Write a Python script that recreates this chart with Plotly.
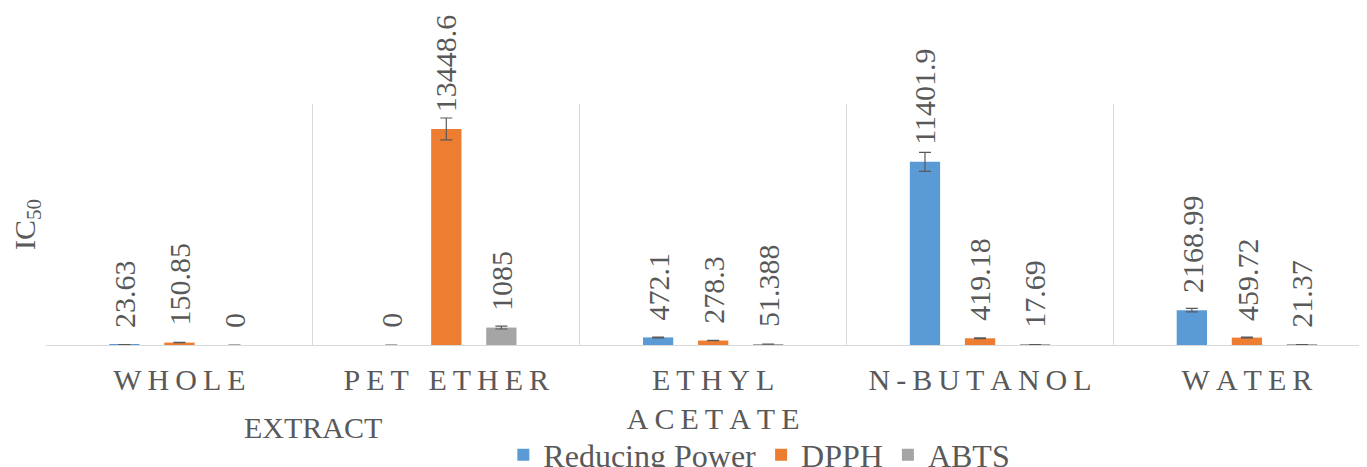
import plotly.graph_objects as go

# ---- data ----
categories = ["WHOLE EXTRACT", "PET ETHER", "ETHYL ACETATE", "N-BUTANOL", "WATER"]
series_names = ["Reducing Power", "DPPH", "ABTS"]
reducing_power = [23.63, 0, 472.1, 11401.9, 2168.99]
dpph = [150.85, 13448.6, 278.3, 419.18, 459.72]
abts = [0, 1085, 51.388, 17.69, 21.37]
reducing_power_err = [2, 0, 25, 590, 110]
dpph_err = [8, 680, 15, 25, 25]
abts_err = [0, 90, 3, 1, 1]
tick_lines = [["WHOLE"], ["PET ETHER"], ["ETHYL", "ACETATE"], ["N-BUTANOL"], ["WATER"]]
extra_label = "EXTRACT"
y_title = "IC<sub>50</sub>"

colors = ["#5B9BD5", "#ED7D31", "#A5A5A5"]
FONT = "Liberation Serif"
TXT = "#595959"
BARGAP = 0.381
BARGROUPGAP = 0.45

def spaced(s):
    return "\u2009".join(s)

ticktext = ["<br>".join(spaced(l) for l in lines) for lines in tick_lines]

values = [reducing_power, dpph, abts]
errors = [reducing_power_err, dpph_err, abts_err]

fig = go.Figure()
for name, vals, errs, col in zip(series_names, values, errors, colors):
    fig.add_trace(go.Bar(
        x=categories, y=vals, name=name, marker=dict(color=col, line=dict(width=0)),
        error_y=dict(type="data", array=errs, visible=True, color="#595959",
                     thickness=1.2, width=6),
    ))

# data labels (rotated), placed over each bar
n = len(series_names)
slot = (1 - BARGAP) / n
annotations = []
for si, vals in enumerate(values):
    off = (si - (n - 1) / 2) * slot
    for ci, v in enumerate(vals):
        annotations.append(dict(
            x=ci + off, y=v, xref="x", yref="y", text=f"{v:g}", textangle=-90,
            showarrow=False, yanchor="bottom", xanchor="center", yshift=15,
            font=dict(family=FONT, size=30, color=TXT),
        ))

# second line of the first category (offset as in the reference)
annotations.append(dict(
    x=0.5, y=0, xref="x", yref="y", text=extra_label, showarrow=False,
    yanchor="middle", xanchor="center", yshift=-82,
    font=dict(family=FONT, size=30, color=TXT),
))

fig.update_layout(
    width=1359, height=459,
    margin=dict(l=38, r=0, t=96, b=122, autoexpand=False),
    paper_bgcolor="white", plot_bgcolor="white",
    barmode="group", bargap=BARGAP, bargroupgap=BARGROUPGAP,
    font=dict(family=FONT, size=30, color=TXT),
    showlegend=True,
    legend=dict(orientation="h", x=0.54, xanchor="center", y=-0.456, yanchor="middle",
                font=dict(family=FONT, size=32, color=TXT), bgcolor="rgba(0,0,0,0)",
                itemsizing="constant"),
    annotations=annotations,
)
fig.update_xaxes(
    type="category", categoryorder="array", categoryarray=categories,
    tickvals=categories, ticktext=ticktext,
    range=[-0.5, 4.45], tickson="boundaries", ticks="", showgrid=True,
    gridcolor="#D9D9D9", gridwidth=1, showline=True, linecolor="#D9D9D9", linewidth=1,
    tickfont=dict(family=FONT, size=30, color=TXT), ticklabelstandoff=8,
)
fig.update_yaxes(
    range=[0, 15000], showticklabels=False, showgrid=False, zeroline=False,
    showline=False, ticks="",
    title=dict(text=y_title, font=dict(family=FONT, size=30, color=TXT), standoff=6),
)

fig.write_html("out.html")
